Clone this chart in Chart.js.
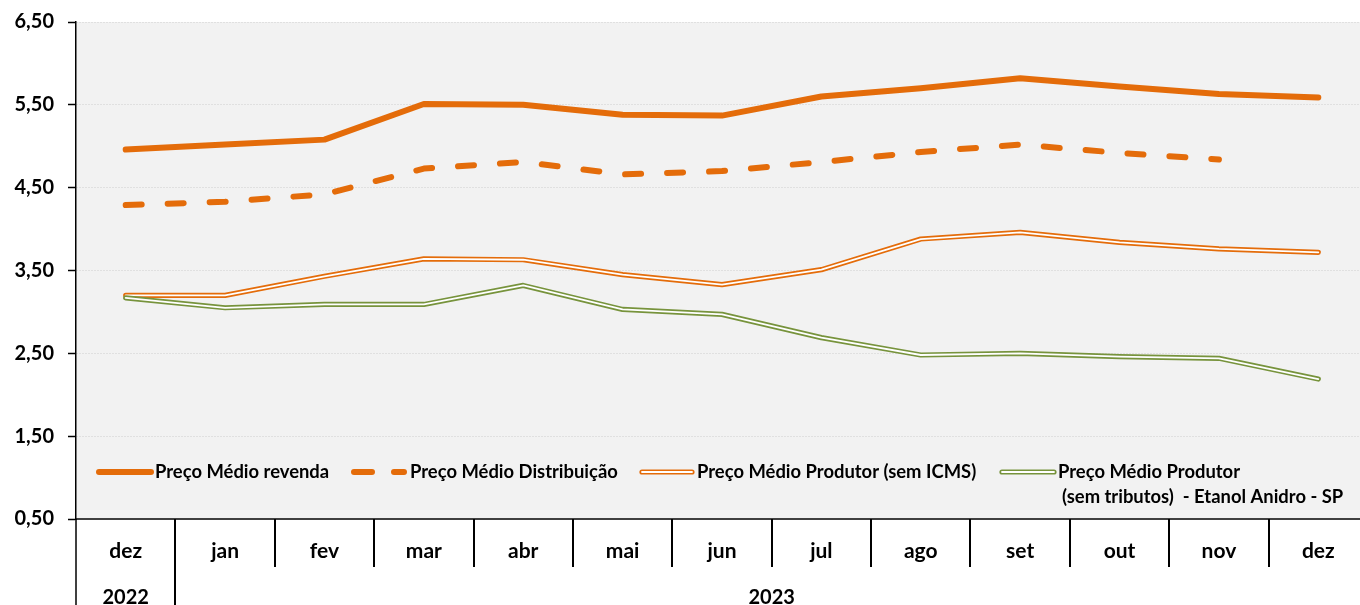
<!DOCTYPE html>
<html><head><meta charset="utf-8">
<script src="https://cdn.jsdelivr.net/npm/chart.js@4/dist/chart.umd.min.js"></script>
<style>
html,body{margin:0;padding:0;background:#fff;overflow:hidden;width:1360px;height:605px;}
#wrap{position:relative;width:1368px;height:605px;}
canvas{display:block;}
</style></head><body>
<div id="wrap"><canvas id="c" width="1368" height="605"></canvas></div>
<script>
const months = ['dez','jan','fev','mar','abr','mai','jun','jul','ago','set','out','nov','dez'];
const years = ['2022','2023'];
const yearSpans = [1,12];
const revenda = [4.96,5.02,5.08,5.51,5.50,5.38,5.37,5.60,5.70,5.82,5.72,5.63,5.59];
const distribuicao = [4.29,4.33,4.42,4.73,4.81,4.66,4.70,4.81,4.93,5.02,4.92,4.84,null];
const produtor = [3.20,3.20,3.43,3.64,3.63,3.45,3.33,3.51,3.88,3.96,3.84,3.76,3.72];
const anidro = [3.17,3.05,3.09,3.09,3.32,3.03,2.97,2.69,2.48,2.50,2.46,2.44,2.19];
const yTicks = [0.5,1.5,2.5,3.5,4.5,5.5,6.5];
const legendLabels = ['Preço Médio revenda','Preço Médio Distribuição','Preço Médio Produtor (sem ICMS)'];
const legendLabel4 = ['Preço Médio Produtor','(sem tributos)  - Etanol Anidro - SP'];

const ORANGE = '#E46C0A', GREEN = '#77933C';
const FONT = 'Lato, "Open Sans", sans-serif';

function base(label, data, color, width, order){
  return {label, data, borderColor: color, backgroundColor: color, borderWidth: width,
    pointRadius: 0, pointHoverRadius: 0, tension: 0, fill: false, order,
    borderCapStyle: 'round', borderJoinStyle: 'round', spanGaps: false};
}
const datasets = [
  base(legendLabels[0], revenda, ORANGE, 6, 1),
  Object.assign(base(legendLabels[1], distribuicao, ORANGE, 6, 1), {borderDash: [16, 26]}),
  base(legendLabels[2], produtor, ORANGE, 5.2, 5),
  base(legendLabels[2] + ' (int)', produtor, '#ffffff', 1.8, 4),
  base(legendLabel4.join(' '), anidro, GREEN, 5.2, 3),
  base(legendLabel4.join(' ') + ' (int)', anidro, '#ffffff', 1.8, 2)
];

const bgPlugin = {
  id: 'bg',
  beforeDraw(chart){
    const {ctx, chartArea: a} = chart;
    ctx.save();
    ctx.fillStyle = '#f2f2f2';
    ctx.fillRect(a.left, a.top, a.right - a.left, a.bottom - a.top);
    ctx.restore();
  }
};

const xLabelPlugin = {
  id: 'xlabels',
  afterDraw(chart){
    const {ctx, chartArea: a} = chart;
    const xs = chart.scales.x;
    const step = xs.getPixelForValue(1) - xs.getPixelForValue(0);
    ctx.save();
    ctx.fillStyle = '#000';
    ctx.textAlign = 'center';
    ctx.textBaseline = 'middle';
    ctx.font = 'bold 21px ' + FONT;
    months.forEach((m, i) => ctx.fillText(m, xs.getPixelForValue(i), 551));
    ctx.strokeStyle = '#000';
    ctx.lineWidth = 2;
    const yearBounds = [];
    let acc = 0;
    yearSpans.forEach(s => { acc += s; yearBounds.push(acc); });
    for (let i = 1; i < months.length; i++){
      const x = Math.round(xs.getPixelForValue(i) - step / 2);
      const isYear = yearBounds.includes(i);
      ctx.beginPath();
      ctx.moveTo(x, a.bottom);
      ctx.lineTo(x, isYear ? 605 : 567);
      ctx.stroke();
    }
    ctx.lineWidth = 1.5;
    ctx.beginPath();
    ctx.moveTo(a.left, a.bottom);
    ctx.lineTo(a.left, 605);
    ctx.stroke();
    ctx.font = 'bold 20px ' + FONT;
    let start = 0;
    years.forEach((y, k) => {
      const end = start + yearSpans[k] - 1;
      const x0 = xs.getPixelForValue(start) - step / 2;
      const x1 = xs.getPixelForValue(end) + step / 2;
      ctx.fillText(y, (x0 + x1) / 2, 598);
      start = end + 1;
    });
    ctx.restore();
  }
};

const legendPlugin = {
  id: 'customLegend',
  afterDatasetsDraw(chart){
    const ctx = chart.ctx;
    ctx.save();
    ctx.font = 'bold 100px ' + FONT;
    const size = 100 * 208 / ctx.measureText(legendLabels[1]).width;
    ctx.font = 'bold ' + size.toFixed(2) + 'px ' + FONT;
    ctx.fillStyle = '#000';
    ctx.textBaseline = 'middle';
    ctx.textAlign = 'left';
    const y = 472;
    ctx.lineCap = 'round';
    ctx.strokeStyle = ORANGE; ctx.lineWidth = 6;
    ctx.beginPath(); ctx.moveTo(99, y); ctx.lineTo(151, y); ctx.stroke();
    ctx.fillText(legendLabels[0], 155, y);
    ctx.setLineDash([18, 22]);
    ctx.beginPath(); ctx.moveTo(354, y); ctx.lineTo(404, y); ctx.stroke();
    ctx.setLineDash([]);
    ctx.fillText(legendLabels[1], 410, y);
    ctx.lineWidth = 5.2;
    ctx.beginPath(); ctx.moveTo(642, y); ctx.lineTo(692, y); ctx.stroke();
    ctx.strokeStyle = '#fff'; ctx.lineWidth = 1.8;
    ctx.beginPath(); ctx.moveTo(642, y); ctx.lineTo(692, y); ctx.stroke();
    ctx.fillText(legendLabels[2], 697, y);
    ctx.strokeStyle = GREEN; ctx.lineWidth = 5.2;
    ctx.beginPath(); ctx.moveTo(1002, y); ctx.lineTo(1054, y); ctx.stroke();
    ctx.strokeStyle = '#fff'; ctx.lineWidth = 1.8;
    ctx.beginPath(); ctx.moveTo(1002, y); ctx.lineTo(1054, y); ctx.stroke();
    ctx.fillText(legendLabel4[0], 1058, y);
    ctx.fillText(legendLabel4[1], 1062, y + 25);
    ctx.restore();
  }
};

new Chart(document.getElementById('c'), {
  type: 'line',
  data: {labels: months, datasets},
  options: {
    responsive: false,
    animation: false,
    devicePixelRatio: 1,
    layout: {padding: {top: 22, right: 0, left: 0, bottom: 0}},
    plugins: {legend: {display: false}, tooltip: {enabled: false}, title: {display: false}},
    scales: {
      x: {
        type: 'category', offset: true,
        grid: {display: false, drawTicks: false},
        ticks: {display: false},
        border: {display: true, color: '#404040', width: 2},
        afterFit(s){ s.height = 86; s.paddingLeft = 0; s.paddingRight = 0; }
      },
      y: {
        min: 0.5, max: 6.5,
        afterBuildTicks(s){ s.ticks = yTicks.map(v => ({value: v})); },
        ticks: {
          callback: v => v.toFixed(2).replace('.', ','),
          font: {family: FONT, weight: 'bold', size: 20},
          color: '#000', padding: 14
        },
        grid: {color: '#cfcfcf', lineWidth: 1, tickLength: 8, tickColor: '#000', tickWidth: 1.5, tickBorderDash: []},
        border: {display: true, color: '#000', width: 1.5, dash: [1, 2]},
        afterFit(s){ s.width = 76; s.paddingTop = 0; s.paddingBottom = 0; }
      }
    }
  },
  plugins: [bgPlugin, xLabelPlugin, legendPlugin]
});
</script>
</body></html>
